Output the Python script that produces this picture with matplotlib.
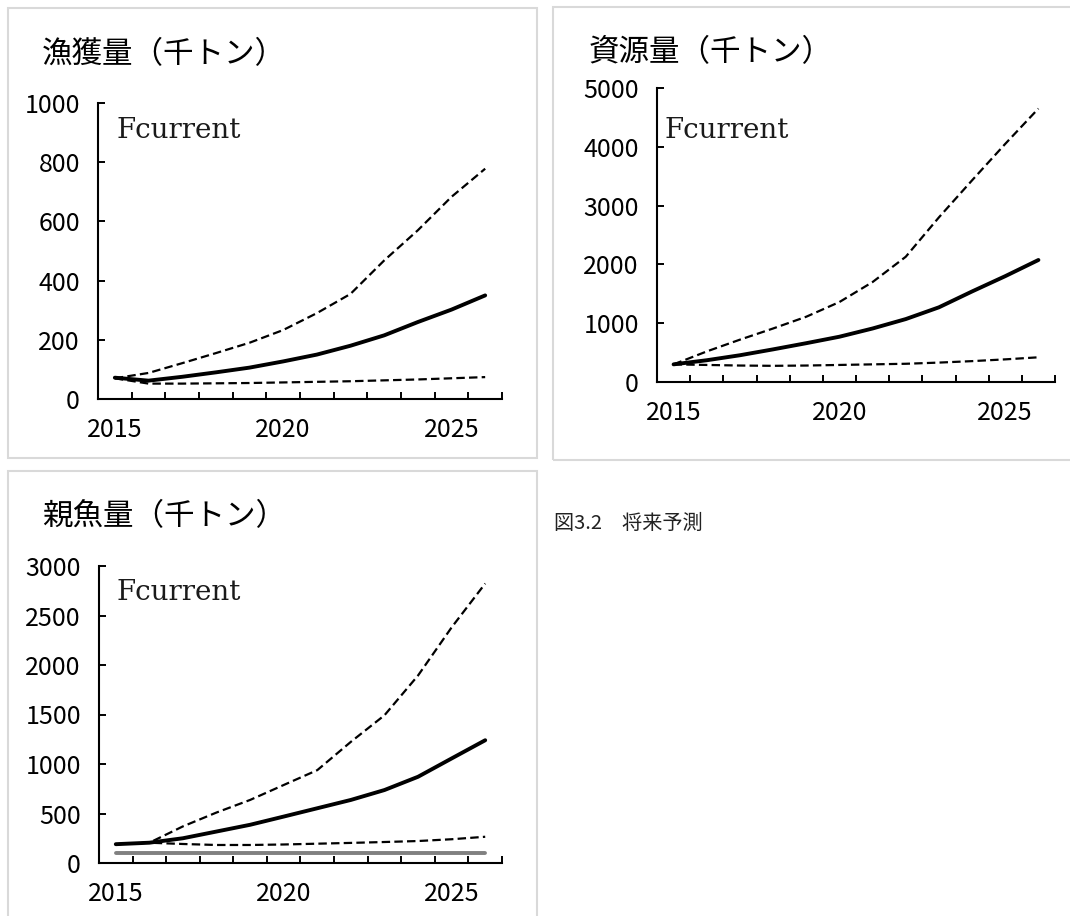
import numpy as np
import matplotlib
matplotlib.use('Agg')
import matplotlib.pyplot as plt
from matplotlib.patches import Rectangle

plt.rcParams['font.family'] = ['Noto Sans CJK JP', 'DejaVu Sans']

# datos
anios = [2015, 2016, 2017, 2018, 2019, 2020, 2021, 2022, 2023, 2024, 2025, 2026]
etiquetas_x = [2015, 2020, 2025]

captura_med = [72, 62, 75, 90, 106, 127, 150, 180, 215, 260, 302, 350]
captura_alto = [70, 88, 121, 155, 190, 233, 290, 355, 468, 570, 683, 778]
captura_bajo = [70, 52, 52, 53, 54, 56, 58, 60, 63, 66, 70, 74]

recurso_med = [300, 370, 455, 555, 660, 770, 910, 1070, 1270, 1540, 1800, 2075]
recurso_alto = [300, 520, 720, 910, 1110, 1360, 1700, 2130, 2800, 3430, 4050, 4650]
recurso_bajo = [300, 290, 280, 275, 280, 290, 300, 310, 330, 355, 385, 420]

desove_med = [190, 205, 250, 318, 386, 469, 553, 637, 737, 871, 1056, 1240]
desove_alto = [190, 205, 370, 510, 637, 788, 938, 1224, 1492, 1894, 2380, 2823]
desove_bajo = [190, 205, 192, 182, 182, 187, 195, 203, 212, 222, 240, 265]
blimit = [100] * 12

titulos = ['漁獲量（千トン）', '資源量（千トン）', '親魚量（千トン）']
ymax = [1000, 5000, 3000]
ypaso = [200, 1000, 500]
leyenda = 'Fcurrent'
pie = '図3.2\u3000将来予測'

W, H = 1070, 916
fig = plt.figure(figsize=(W / 100, H / 100), dpi=100)


def caja(x0, y0, x1, y1):
    # marco gris claro de cada panel (en pixeles)
    r = Rectangle((x0 / W, 1 - y1 / H), (x1 - x0) / W, (y1 - y0) / H,
                  transform=fig.transFigure, fill=False, edgecolor='#d9d9d9', lw=1.5)
    fig.add_artist(r)


def panel(px0, px1, py0, py1, med, alto, bajo, k, gris=None):
    ax = fig.add_axes([px0 / W, 1 - py0 / H, (px1 - px0) / W, (py0 - py1) / H])
    ax.plot(anios, alto, color='black', lw=1.6, ls=(0, (3.8, 1.9)))
    ax.plot(anios, bajo, color='black', lw=1.6, ls=(0, (3.8, 1.9)))
    if gris is not None:
        ax.plot(anios, gris, color='#808080', lw=2.8, solid_capstyle='round')
    ax.plot(anios, med, color='black', lw=2.8, solid_capstyle='round')
    ax.set_xlim(anios[0] - 0.5, anios[-1] + 0.5)
    ax.set_ylim(0, ymax[k])
    ax.set_yticks(np.arange(0, ymax[k] + 1, ypaso[k]))
    ax.set_xticks(np.arange(anios[0] - 0.5, anios[-1] + 1, 1))
    ax.set_xticklabels([])
    ax.set_xticks(etiquetas_x, minor=True)
    ax.set_xticklabels([str(a) for a in etiquetas_x], minor=True)
    for s in ['top', 'right']:
        ax.spines[s].set_visible(False)
    for s in ['left', 'bottom']:
        ax.spines[s].set_linewidth(1.5)
    ax.tick_params(axis='both', which='major', direction='in', length=5, width=1.4,
                   labelsize=18, pad=13)
    ax.tick_params(axis='x', which='minor', length=0, labelsize=18, pad=13)
    ax.patch.set_alpha(0)
    return ax


caja(8, 8, 537, 458)
caja(553, 7, 1080, 460)
caja(8, 471, 537, 930)

panel(98, 502, 399, 103, captura_med, captura_alto, captura_bajo, 0)
panel(657, 1055, 382, 88, recurso_med, recurso_alto, recurso_bajo, 1)
panel(99, 502, 863, 566, desove_med, desove_alto, desove_bajo, 2, gris=blimit)

# titulos y textos
fig.text(42 / W, 1 - 55 / H, titulos[0], fontsize=22, va='center', ha='left')
fig.text(589 / W, 1 - 53 / H, titulos[1], fontsize=22, va='center', ha='left')
fig.text(42 / W, 1 - 517 / H, titulos[2], fontsize=22, va='center', ha='left')

for (x, y) in [(117, 138), (665, 138), (117, 600)]:
    fig.text(x / W, 1 - y / H, leyenda, fontsize=20, family='DejaVu Serif',
             va='baseline', ha='left', color='#1a1a1a')

fig.text(554 / W, 1 - 523 / H, pie, fontsize=14.5, va='center', ha='left', color='#222222')

fig.savefig('out.png', dpi=100)
